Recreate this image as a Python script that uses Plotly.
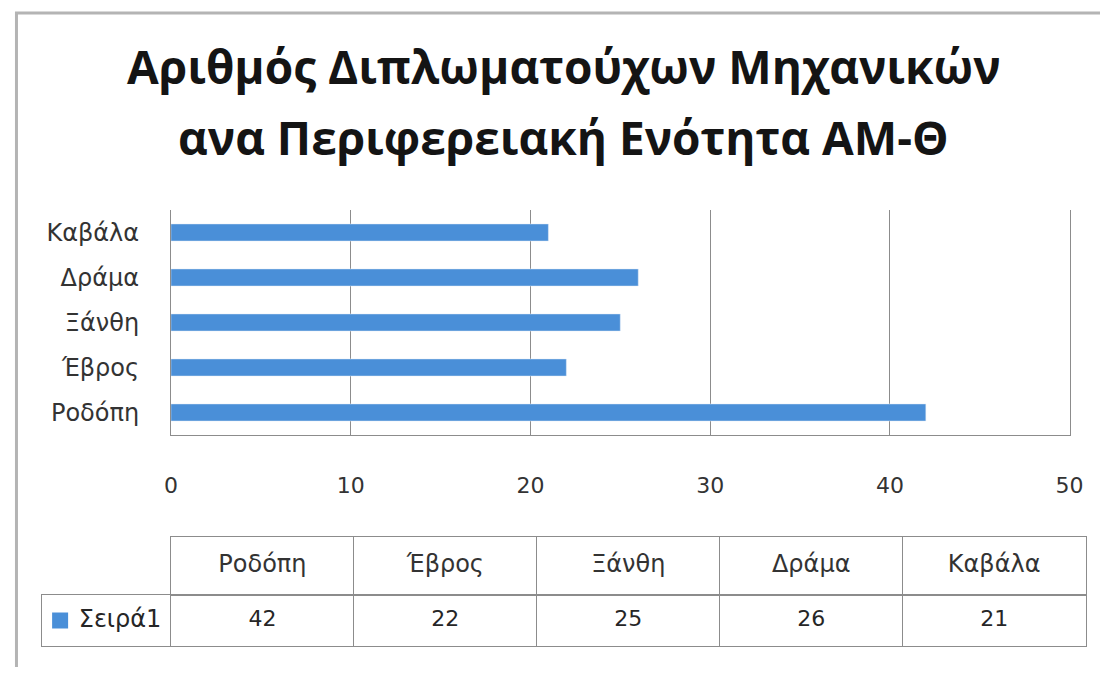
import plotly.graph_objects as go

categories = ["Ροδόπη", "Έβρος", "Ξάνθη", "Δράμα", "Καβάλα"]
values = [42, 22, 25, 26, 21]
series_name = "Σειρά1"
x_ticks = [0, 10, 20, 30, 40, 50]
title_lines = ["Αριθμός Διπλωματούχων Μηχανικών", "ανα Περιφερειακή Ενότητα ΑΜ-Θ"]

BAR = "#4A8FD8"
GRID = "#8C8C8C"
TXT = "#333333"
FONT = "DejaVu Sans"
TFONT = "Open Sans"
PAGE = 8                      # browser body margin
W, H = 1108 - 2 * PAGE, 675 - 2 * PAGE
FS_NUM = 22
FS_CAT = 24
# observed horizontal placement of the figure in the photographed page
SX, OX = 0.98, 15.2


def px(x):
    return ((x - OX) / SX) / W


def py(y):
    return 1 - (y - PAGE) / H


n = len(categories)
idx = list(range(n))
col_px = (1085 - 171) / n
leg_units = (171 - 42) / col_px

fig = go.Figure()
fig.add_trace(go.Bar(
    y=categories, x=values, orientation="h", marker_color=BAR,
    name=series_name, showlegend=False, xaxis="x", yaxis="y"))

# data table: header row
fig.add_trace(go.Scatter(
    x=idx, y=[0] * n, mode="text", text=categories, xaxis="x2", yaxis="y2",
    textfont=dict(family=FONT, size=FS_CAT, color=TXT), showlegend=False,
    hoverinfo="skip", cliponaxis=False))
# data table: values row
fig.add_trace(go.Scatter(
    x=idx, y=[0] * n, mode="text", text=[str(v) for v in values],
    xaxis="x3", yaxis="y3",
    textfont=dict(family=FONT, size=FS_NUM, color="#262626"), showlegend=False,
    hoverinfo="skip", cliponaxis=False))
# legend key in table
fig.add_trace(go.Scatter(
    x=[-0.5 - leg_units + 0.1], y=[0], mode="markers+text",
    marker=dict(symbol="square", size=16, color=BAR),
    text=[" " + series_name], textposition="middle right",
    textfont=dict(family=FONT, size=FS_CAT, color="#262626"),
    xaxis="x3", yaxis="y3", showlegend=False, hoverinfo="skip", cliponaxis=False))

box = dict(showline=True, mirror=True, linecolor=GRID, linewidth=1,
           zeroline=False, showticklabels=False, ticks="", fixedrange=True)

fig.update_layout(
    width=W, height=H, margin=dict(l=0, r=0, t=0, b=0),
    paper_bgcolor="white", plot_bgcolor="white",
    bargap=0.62,
    xaxis=dict(domain=[px(171), px(1069)], range=[0, 50], tickvals=x_ticks,
               anchor="y",
               showgrid=True, gridcolor=GRID, gridwidth=1, zeroline=False,
               showline=True, linecolor=GRID,
               ticks="", ticklabelstandoff=31,
               tickfont=dict(family=FONT, size=FS_NUM, color=TXT)),
    yaxis=dict(domain=[py(435), py(210)], categoryorder="array",
               anchor="x",
               categoryarray=categories, showgrid=False, showline=True,
               mirror=True,
               linecolor=GRID, ticks="", ticklabelstandoff=26,
               tickfont=dict(family=FONT, size=FS_CAT, color=TXT)),
    xaxis2=dict(domain=[px(171), px(1085)], range=[-0.5, n - 0.5], anchor="y2",
                tickvals=[i + 0.5 for i in idx[:-1]], showgrid=True,
                gridcolor=GRID, **box),
    yaxis2=dict(domain=[py(595), py(537)], range=[-0.5, 0.5],
                anchor="x2", showgrid=False, **box),
    xaxis3=dict(domain=[px(42), px(1085)], range=[-0.5 - leg_units, n - 0.5],
                anchor="y3", tickvals=[i - 0.5 for i in idx], showgrid=True,
                gridcolor=GRID, **box),
    yaxis3=dict(domain=[py(646), py(595)], range=[-0.5, 0.5],
                anchor="x3", showgrid=False, **box),
    annotations=[
        dict(text=title_lines[0], xref="paper", yref="paper", x=px(563.5),
             y=py(66), xanchor="center", yanchor="middle", showarrow=False,
             font=dict(family=TFONT, size=46, color="#141414", weight="bold")),
        dict(text=title_lines[1], xref="paper", yref="paper", x=px(563.5),
             y=py(137), xanchor="center", yanchor="middle", showarrow=False,
             font=dict(family=TFONT, size=46, color="#141414", weight="bold")),
    ],
    shapes=[dict(type="rect", xref="paper", yref="paper",
                 x0=1.5 / W, x1=1.05, y0=-0.05, y1=py(13),
                 line=dict(color="#B4B4B4", width=3), fillcolor="rgba(0,0,0,0)")],
)

fig.write_html("out.html")
